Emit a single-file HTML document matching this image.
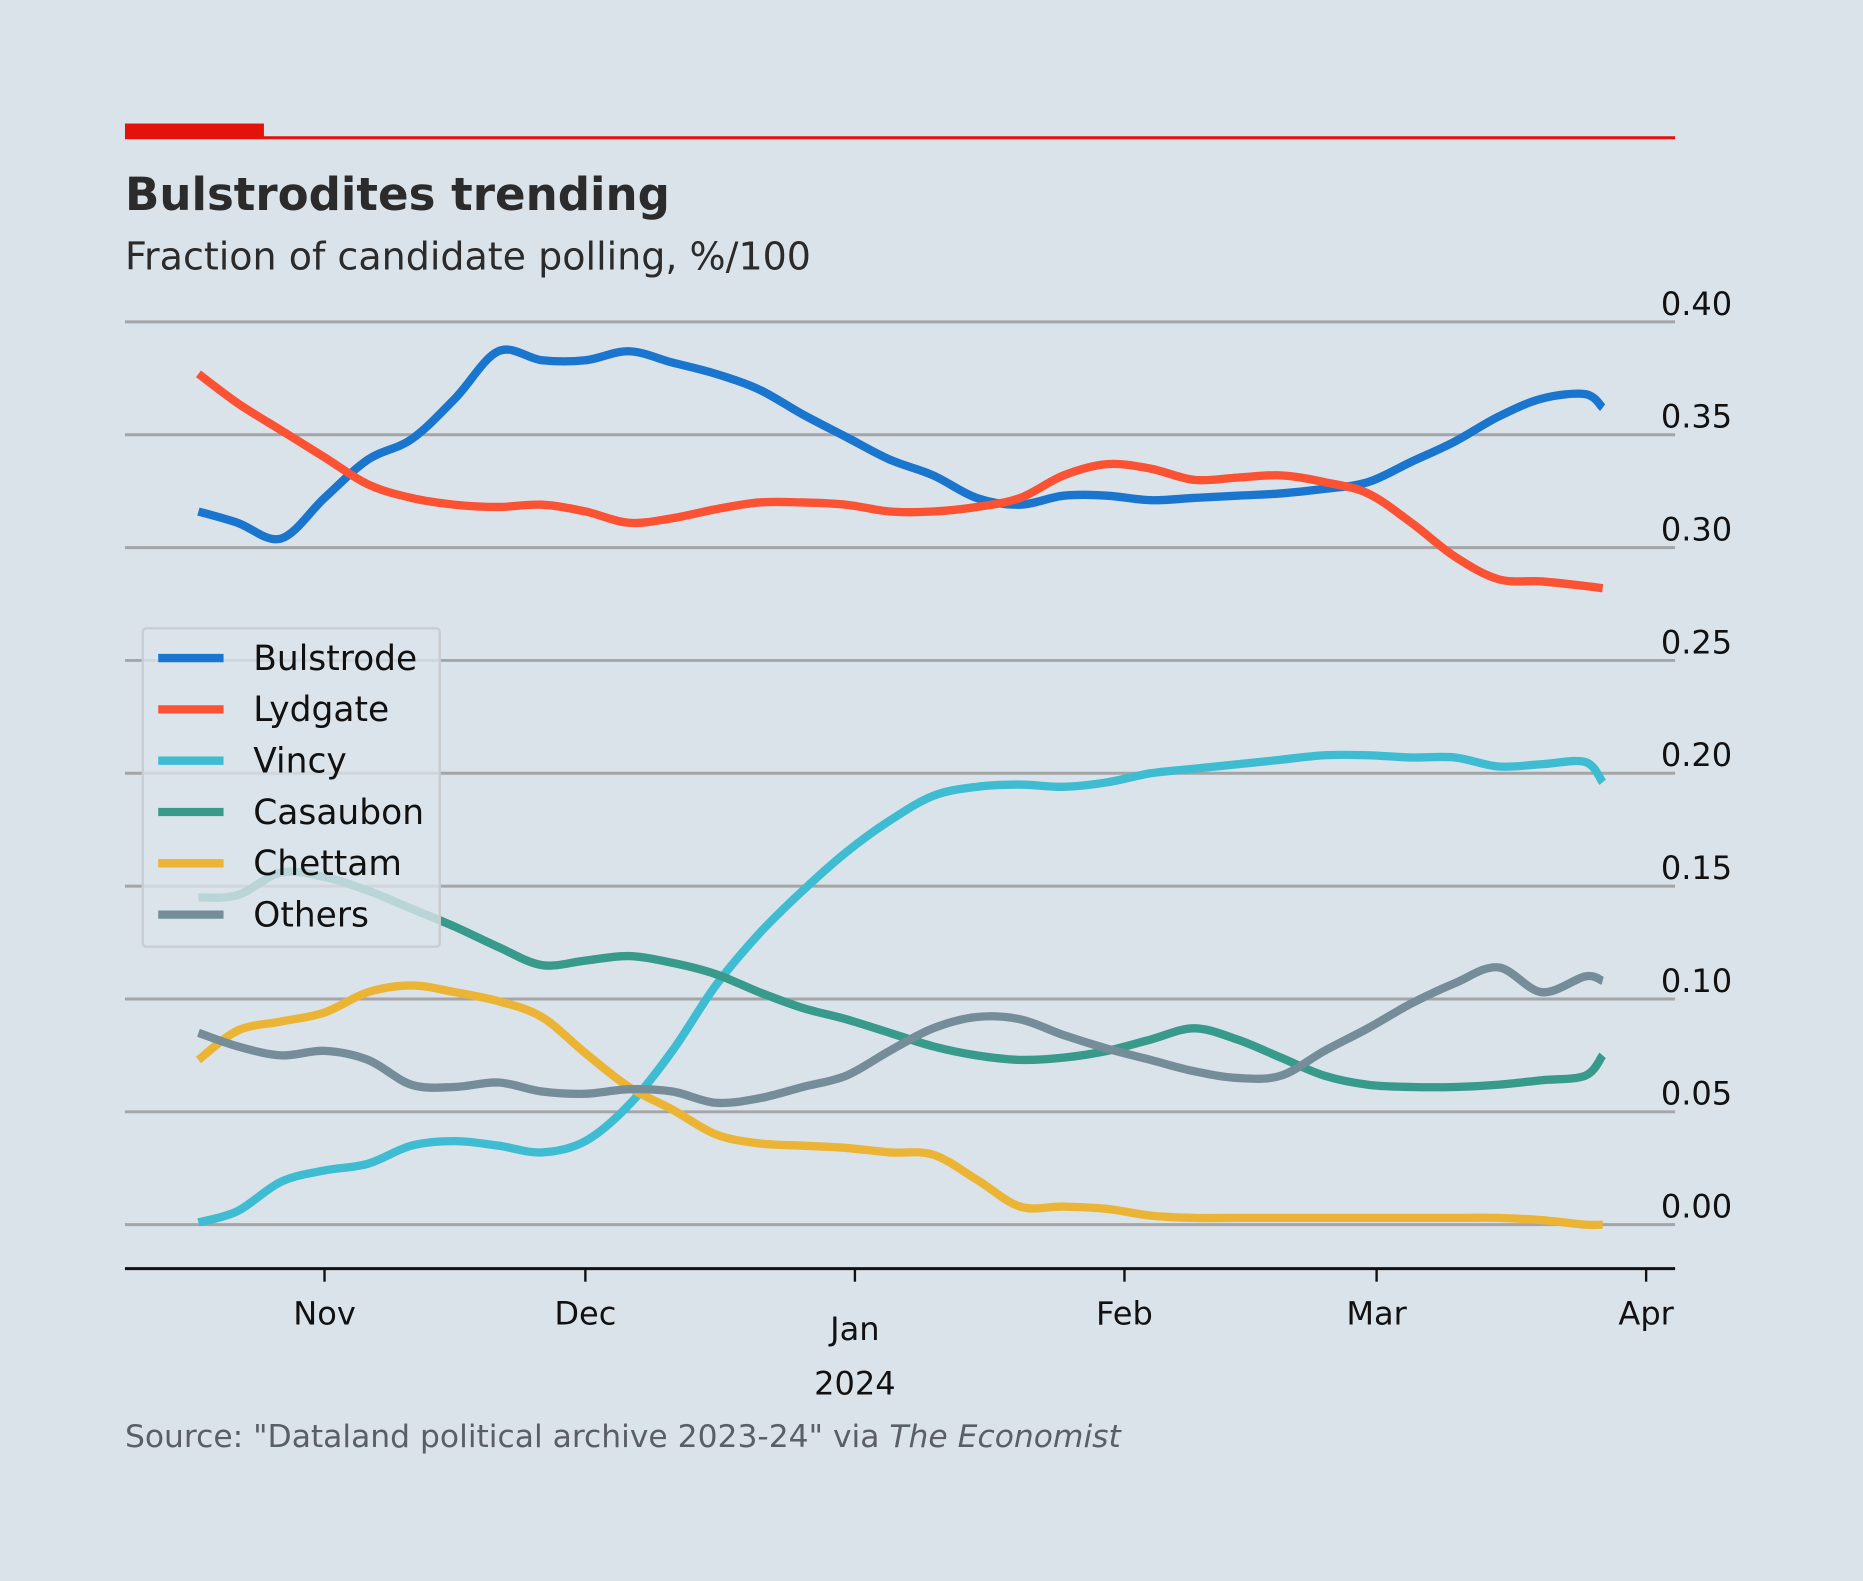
<!DOCTYPE html>
<html><head><meta charset="utf-8"><style>
html,body{margin:0;padding:0;background:#dbe3ea;}
svg{display:block;font-family:"DejaVu Sans","Liberation Sans",sans-serif;}
</style></head><body>
<svg id="chart" width="1863" height="1581" viewBox="0 0 1568 1331" xmlns="http://www.w3.org/2000/svg">
<rect width="1568" height="1331" fill="#dbe3ea"/>
<rect x="105" y="104" width="117" height="12" fill="#e3120b"/>
<line x1="105" y1="116" x2="1410" y2="116" stroke="#e3120b" stroke-width="2.5"/>
<text x="105" y="177" font-size="38" font-weight="bold" fill="#2b2b2b">Bulstrodites trending</text>
<text x="105" y="227" font-size="32" fill="#2b2b2b">Fraction of candidate polling, %/100</text>
<g id="grid"></g>
<g id="series"></g>
<g id="xaxis"></g>
<g id="legend"></g>
<text x="105" y="1218" font-size="26.4" fill="#5a5f66">Source: "Dataland political archive 2023-24" via <tspan font-style="italic">The Economist</tspan></text>
</svg>
<script>
const days = [-14.5,-10,-5,0,5,10,15,20,25,30,35,40,45,50,55,60,65,70,75,80,85,90,95,100,105,110,115,120,125,130,135,140,145,147];
const bulstrode = [0.316,0.311,0.304,0.322,0.339,0.348,0.366,0.387,0.383,0.383,0.387,0.382,0.377,0.370,0.359,0.349,0.339,0.332,0.322,0.319,0.323,0.323,0.321,0.322,0.323,0.324,0.326,0.329,0.338,0.347,0.358,0.366,0.368,0.362];
const lydgate = [0.377,0.364,0.352,0.340,0.328,0.322,0.319,0.318,0.319,0.316,0.311,0.313,0.317,0.320,0.320,0.319,0.316,0.316,0.318,0.322,0.332,0.337,0.335,0.330,0.331,0.332,0.329,0.324,0.311,0.296,0.286,0.285,0.283,0.282];
const vincy = [0.001,0.006,0.019,0.024,0.027,0.035,0.037,0.035,0.032,0.037,0.053,0.077,0.106,0.129,0.148,0.165,0.179,0.190,0.194,0.195,0.194,0.196,0.200,0.202,0.204,0.206,0.208,0.208,0.207,0.207,0.203,0.204,0.205,0.196];
const casaubon = [0.145,0.146,0.156,0.154,0.148,0.140,0.132,0.123,0.115,0.117,0.119,0.116,0.111,0.103,0.096,0.091,0.085,0.079,0.075,0.073,0.074,0.077,0.082,0.087,0.082,0.074,0.066,0.062,0.061,0.061,0.062,0.064,0.066,0.075];
const chettam = [0.073,0.086,0.090,0.094,0.103,0.106,0.103,0.099,0.092,0.076,0.061,0.051,0.040,0.036,0.035,0.034,0.032,0.031,0.020,0.008,0.008,0.007,0.004,0.003,0.003,0.003,0.003,0.003,0.003,0.003,0.003,0.002,0.000,0.000];
const others = [0.085,0.079,0.075,0.077,0.073,0.062,0.061,0.063,0.059,0.058,0.060,0.059,0.054,0.056,0.061,0.066,0.077,0.087,0.092,0.091,0.084,0.078,0.073,0.068,0.065,0.066,0.077,0.087,0.098,0.107,0.114,0.103,0.110,0.108];
const seriesNames = ["Bulstrode","Lydgate","Vincy","Casaubon","Chettam","Others"];
const seriesColors = ["#1a75cf","#fb5234","#3ebcd2","#379a8b","#ebb434","#758d99"];
const yTicks = [0,0.05,0.1,0.15,0.2,0.25,0.3,0.35,0.4];
const monthLabels = ["Nov","Dec","Jan","Feb","Mar","Apr"];
const monthDays = [0,30,61,92,121,152];

const NS="http://www.w3.org/2000/svg";
const X = d => 273 + d*7.32;
const Y = v => 1031 - v*1900;
function mk(tag, attrs, parent){const e=document.createElementNS(NS,tag);for(const k in attrs)e.setAttribute(k,attrs[k]);parent.appendChild(e);return e;}

const grid=document.getElementById('grid');
yTicks.forEach(t=>{
  const l=mk('line',{x1:105,x2:1410,y1:Y(t),y2:Y(t),stroke:'#a3a5a6','stroke-width':2.5},grid);
  
  
  const tx=mk('text',{x:1398,y:Y(t)-6,'font-size':27,fill:'#111'},grid);
  tx.textContent=t.toFixed(2);
  
  
});

function smooth(pts){
  let d=`M${pts[0][0]},${pts[0][1]}`;
  for(let i=0;i<pts.length-1;i++){
    const p0=pts[i-1]||pts[i],p1=pts[i],p2=pts[i+1],p3=pts[i+2]||p2;
    const c1=[p1[0]+(p2[0]-p0[0])/6,p1[1]+(p2[1]-p0[1])/6];
    const c2=[p2[0]-(p3[0]-p1[0])/6,p2[1]-(p3[1]-p1[1])/6];
    d+=` C${c1[0]},${c1[1]} ${c2[0]},${c2[1]} ${p2[0]},${p2[1]}`;
  }
  return d;
}
const sg=document.getElementById('series');
[bulstrode,lydgate,vincy,casaubon,chettam,others].forEach((vals,i)=>{
  const pts=days.map((d,j)=>[X(d),Y(vals[j])]);
  const p=mk('path',{d:smooth(pts),fill:'none',stroke:seriesColors[i],'stroke-width':7,'stroke-linejoin':'round'},sg);
  
  
});

const xa=document.getElementById('xaxis');
const ax=mk('line',{x1:105,x2:1410,y1:1068,y2:1068,stroke:'#111','stroke-width':2.5},xa);


monthLabels.forEach((m,i)=>{
  const x=X(monthDays[i]);
  const tk=mk('line',{x1:x,x2:x,y1:1068,y2:1079,stroke:'#111','stroke-width':2},xa);
  
  
  const t=mk('text',{x:x,y:m==='Jan'?1128:1115,'font-size':27,fill:'#111','text-anchor':'middle'},xa);
  t.textContent=m;
  
  
});
const yr=mk('text',{x:X(61),y:1174,'font-size':27,fill:'#111','text-anchor':'middle'},xa);
yr.textContent='2024';



const lg=document.getElementById('legend');
const box=mk('rect',{x:120,y:529,width:250,height:268,rx:3,fill:'#dbe3ea','fill-opacity':0.8,stroke:'#c8cdd1','stroke-width':2},lg);


seriesNames.forEach((n,i)=>{
  const y=554+i*43.2;
  const l=mk('line',{x1:133,x2:188,y1:y,y2:y,stroke:seriesColors[i],'stroke-width':7},lg);
  
  
  const t=mk('text',{x:213,y:y+10,'font-size':29,fill:'#111'},lg);
  t.textContent=n;
  
  
});
</script>
</body></html>
